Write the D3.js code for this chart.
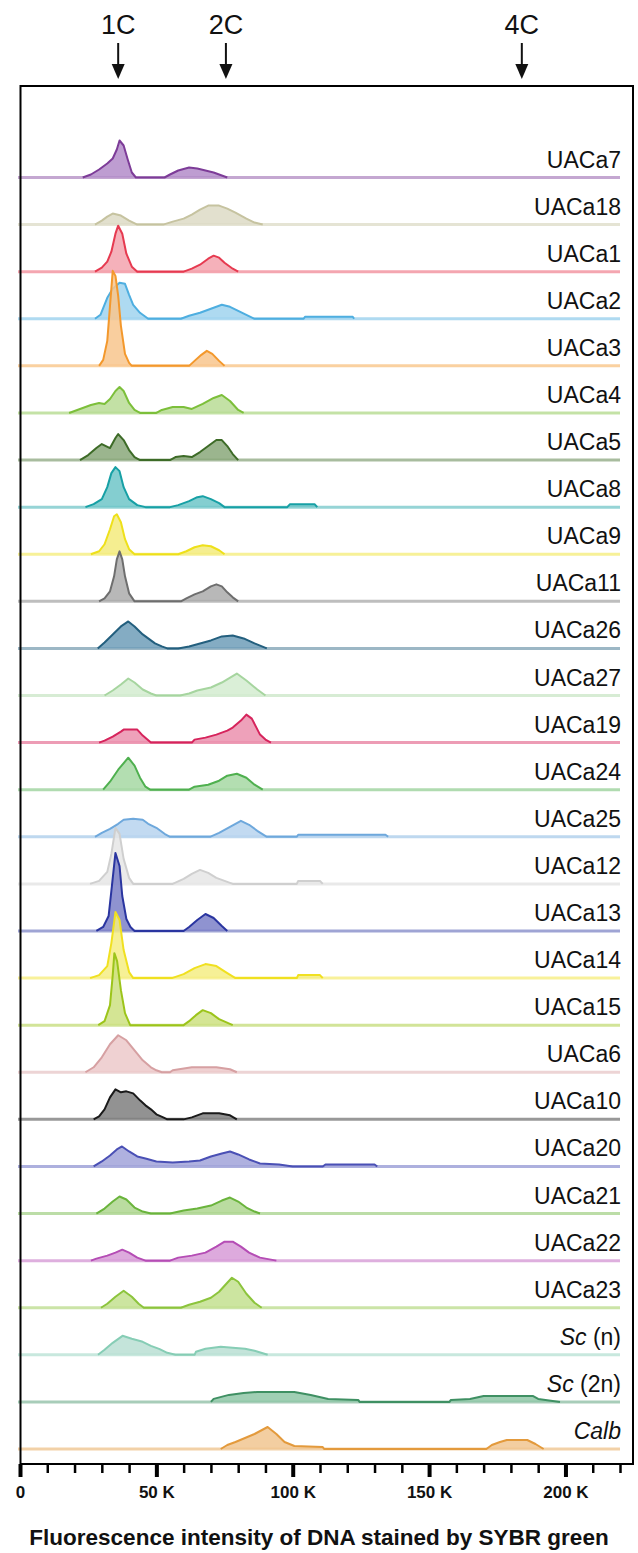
<!DOCTYPE html>
<html>
<head>
<meta charset="utf-8">
<script src="https://cdn.jsdelivr.net/npm/d3@7"></script>
<style>
  html, body { margin: 0; padding: 0; background: #fff; }
  svg { display: block; font-family: "Liberation Sans", Arial, sans-serif; }
</style>
</head>
<body>
<svg id="chart" width="638" height="1553"></svg>
<script>
// ---------- data (x in thousands of fluorescence units, y = relative cell count) ----------
const labels = ["UACa7","UACa18","UACa1","UACa2","UACa3","UACa4","UACa5","UACa8","UACa9","UACa11",
  "UACa26","UACa27","UACa19","UACa24","UACa25","UACa12","UACa13","UACa14","UACa15","UACa6",
  "UACa10","UACa20","UACa21","UACa22","UACa23","Sc|(n)","Sc|(2n)","Calb|"];
const italicLabel = [false,false,false,false,false,false,false,false,false,false,false,false,false,false,
  false,false,false,false,false,false,false,false,false,false,false,true,true,true];

const UACa7  = [[23,0],[26,3],[29,8],[32,14],[34,19],[35.5,28],[36.5,37],[38,32],[39.5,18],[41,5],[42.5,0],[53,0],[55,3],[58,7],[62,10],[65,9],[68,7],[71,5],[74,2],[76,0]];
const UACa18 = [[27.5,0],[30,4],[32,8],[34,11],[37,9],[40,4],[43,0],[52.5,0],[56,3],[60,6],[63,10],[66,15],[69,19],[73,19],[76,16],[79,12],[83,6],[86,2],[89,0]];
const UACa1  = [[27.5,0],[30,4],[32,10],[33.5,20],[35,38],[36,46],[37.5,38],[39,18],[41,5],[43,0],[60,0],[63,3],[66,7],[69,13],[71,16],[73,14],[75,9],[78,3],[80,0]];
const UACa2  = [[27.5,0],[29.5,4],[32,21],[34,30],[36.5,36],[38.5,35],[40,24],[41.5,14],[44,6],[47,0],[59,0],[62,3],[66,6],[70,10],[74,14],[77,12],[80,8],[83,4],[86,0],[104,0],[104.5,2],[122,2],[122.5,0]];
const UACa3  = [[29,0],[30.5,6],[32,25],[33,60],[34,95],[35,90],[36,70],[37,40],[38.5,12],[40,3],[41,0],[62,0],[64,5],[66.5,11],[68.5,15],[70.5,12],[73,5],[75,0]];
const UACa4  = [[18,0],[22,4],[26,8],[29,10],[31,9],[33,14],[35,22],[36.5,26],[38,22],[40,10],[42,3],[44,0],[50,0],[52,3],[56,6],[60,6],[63,4],[67,9],[71,15],[74,18],[77,12],[80,3],[82,0]];
const UACa5  = [[22,0],[25,5],[28,12],[30,16],[31.5,14],[33,12],[35,22],[36,26],[38,20],[40,10],[42,3],[44,0],[55,0],[57,3],[60,4],[63,3],[66,8],[69,14],[72,20],[74,20],[76,14],[78,6],[80,0]];
const UACa8  = [[24,0],[27,3],[30,8],[32,20],[33.5,34],[35,40],[36.5,36],[38,20],[40,8],[43,2],[46,0],[55,0],[58,2],[62,6],[65,10],[67,11],[70,8],[73,4],[75,0],[98,0],[99,3],[108,3],[109,0]];
const UACa9  = [[26,0],[29,3],[31,10],[33,25],[34.5,38],[35.5,40],[37,32],[38.5,15],[40,5],[42,0],[58,0],[61,3],[64,7],[67,9],[70,8],[73,4],[75,0]];
const UACa11 = [[29,0],[31,3],[33,10],[34.5,25],[35.5,42],[36.5,50],[37.5,42],[38.5,25],[40,8],[42,0],[59,0],[61,3],[64,7],[67,10],[70,15],[72,17],[74,15],[76,9],[78,4],[80,0]];
const UACa26 = [[28.5,0],[31,6],[34,14],[37,22],[39.7,27],[42,22],[45,14],[47.5,9],[49.5,5],[52,2],[54,0],[58,0],[62,2],[66,5],[70,8],[74,12],[78,13],[82,10],[86,5],[90.5,0]];
const UACa27 = [[31,0],[34,5],[37,11],[39.7,17],[42,13],[45,6],[48,2],[50,0],[58.7,0],[62,2],[65,5],[70,8],[74,13],[79.5,22],[83,15],[87,6],[90,0]];
const UACa19 = [[29,0],[31,2],[34,6],[37,11],[38,13],[43,13],[45,7],[48,0],[63,0],[64,3],[68,5],[72,8],[76,12],[78,15],[81,22],[83,28],[85,24],[88,8],[90,3],[92,0]];
const UACa24 = [[30.5,0],[33,8],[36,20],[39.7,32],[42,24],[44,12],[46,3],[47.7,0],[62,0],[64,3],[69,5],[73,9],[76,14],[79.5,16],[83,12],[86,5],[89,0]];
const UACa25 = [[27.5,0],[30,4],[33,8],[36,13],[38,17],[41.5,18],[45,17],[47,13],[50,9],[53,3],[55,0],[69.7,0],[73,4],[77,10],[81,16],[84,12],[87,6],[90.5,0],[101.5,0],[102,2],[128,2],[134,2],[135,0]];
const UACa12 = [[25.7,0],[29,3],[32,12],[33.5,30],[35,56],[36.5,50],[38,25],[40,6],[41.5,0],[56,0],[60,5],[63,10],[66,14],[69,11],[72,6],[75,3],[78,0],[101.5,0],[102,3],[110,3],[111,0]];
const UACa13 = [[28,0],[30.5,4],[32.5,15],[33.5,40],[35,78],[36.5,65],[37.5,35],[39,12],[40.5,4],[42,0],[60,0],[62,4],[65,11],[68,17],[71,13],[74,5],[76,0]];
const UACa14 = [[25.7,0],[29,3],[32,12],[33.5,35],[35,66],[36.5,58],[38,28],[40,6],[41.5,0],[55.7,0],[60,4],[64,10],[68,14],[72,12],[76,5],[79,0],[101.5,0],[102,3],[110,3],[111,0]];
const UACa15 = [[28.7,0],[31,4],[33,20],[34,50],[34.6,72],[35.6,64],[37,35],[38.5,12],[40.4,0],[60,0],[62,4],[64.5,10],[67,15],[70,12],[73,6],[78,0]];
const UACa6  = [[24,0],[27,5],[30,15],[33,28],[36,37],[39,32],[42,22],[45,12],[48,5],[50,2],[52,0],[55,0],[56,2],[63,5],[72,5],[77,3],[79.5,0]];
const UACa10 = [[27,0],[29,3],[31,10],[33,22],[35,30],[37,27],[39,28],[41.5,26],[44,19],[46,14],[48,10],[50,5],[52.5,2],[54,0],[60,0],[63,2],[67,6],[73,6],[77,4],[79.5,0]];
const UACa20 = [[27,0],[30,5],[33,11],[35.5,17],[37.4,20],[40,15],[43,10],[46,8],[50,5],[56,4],[62,5],[66,6],[70,10],[74,13],[77,15],[80,12],[84,7],[88,3],[95,2],[100,0],[111,0],[112,2],[130,2],[131,0]];
const UACa21 = [[28,0],[31,5],[34,12],[36.5,17],[39,14],[42,6],[45,2],[48,0],[55,0],[60,3],[65,5],[70,8],[74,13],[77,16],[80,12],[83,6],[86,2],[88,0]];
const UACa22 = [[26,0],[28,2],[32,5],[35,8],[37.5,11],[40,8],[43,3],[46,0],[55,0],[58,3],[63,5],[68,8],[72,14],[75,19],[78,19],[81,14],[84,8],[88,3],[92,1],[94,0]];
const UACa23 = [[29.7,0],[32,4],[35,11],[38,17],[41,11],[43.5,4],[45.4,0],[59,0],[62,3],[66,6],[70,10],[73,16],[76,25],[77.7,30],[80,26],[83,14],[86,5],[88.6,0]];
const ScN    = [[28.6,0],[31,5],[34,12],[37.6,19],[41,16],[45,13],[48,9],[51,6],[54,2],[57,0],[64,0],[64.5,3],[68,6],[73.6,8],[78,7],[82.5,6],[86,4],[90.8,0]];
const Sc2N   = [[70,0],[71,3],[76.6,7],[82,9],[87,10],[95,10],[100.6,10],[106.6,7],[113,3],[124,2],[124.5,0],[157.5,0],[158,2],[165,3],[170,6],[188,6],[190,3],[198,0]];
const Calb   = [[73.6,0],[76,4],[79,7],[82.5,11],[86,15],[90.8,22],[94,15],[97,7],[100.6,3],[111,2],[111.5,0],[171,0],[173,4],[176,7],[178.5,9],[186,9],[189,5],[192,0]];

const profiles = [UACa7,UACa18,UACa1,UACa2,UACa3,UACa4,UACa5,UACa8,UACa9,UACa11,UACa26,UACa27,UACa19,
  UACa24,UACa25,UACa12,UACa13,UACa14,UACa15,UACa6,UACa10,UACa20,UACa21,UACa22,UACa23,ScN,Sc2N,Calb];

const strokeColors = ["#7d3c98","#c6c3a0","#e63a50","#4eaee0","#f3982c","#7cbf3a","#3d6b27","#17a0a5",
  "#eee01a","#6e6e6e","#235f7e","#a6d59f","#d6245c","#4fb04f","#6ea8dc","#cfcfcf","#2a35a0","#f0e020",
  "#9cc41a","#d6a0a2","#1a1a1a","#4a50b5","#6ab43c","#b54db5","#8cc43c","#86cdb5","#3f9063","#e39a3c"];
const fillColors = ["#b38cc9","#dddac6","#f3a3ae","#a0d4ee","#f8c58d","#b9dc95","#8aa87a","#6ec6c8",
  "#f3eb7c","#ababab","#6f9db8","#d4ecd0","#eb90ae","#a6d8a3","#b7d4ef","#e6e6e6","#7b80c8","#f5ed84",
  "#cce081","#ecc9ca","#7f7f7f","#a1a3d9","#aed68f","#d79bd7","#c3e08f","#badfd3","#8fc7a7","#f1c690"];

const markerLabels = ["1C","2C","4C"];
const markerValues = [36000, 75500, 184000];
const tickMajor = [0, 50000, 100000, 150000, 200000];
const tickMinor = d3.range(0, 220001, 10000);
const tickLabels = ["0","50 K","100 K","150 K","200 K"];
const axisTitle = "Fluorescence intensity of DNA stained by SYBR green";

// ---------- layout ----------
const svg = d3.select("#chart");
const frame = {left: 20.5, right: 633, top: 86, bottom: 1464};
const x = d3.scaleLinear().domain([0, 220000]).range([20, 620]);
const rowBand = d3.scalePoint().domain(d3.range(labels.length)).range([177.5, 1449]);
const h = d3.scaleLinear().domain([0, 100]).range([0, 100]);

// markers on top
const mk = svg.append("g");
markerValues.forEach((v, i) => {
  const cx = x(v);
  mk.append("text").attr("x", cx).attr("y", 34).attr("text-anchor", "middle")
    .attr("font-size", 27).attr("fill", "#111").text(markerLabels[i]);
  mk.append("line").attr("x1", cx).attr("x2", cx).attr("y1", 43).attr("y2", 68)
    .attr("stroke", "#111").attr("stroke-width", 2);
  mk.append("path").attr("d", `M${cx-6.5},${64} L${cx+6.5},${64} L${cx},${79} Z`).attr("fill", "#111");
});

// ridgelines
const area = d3.area().x(d => x(d[0] * 1000)).y0(0).y1(d => -h(d[1]));
const line = d3.line().x(d => x(d[0] * 1000)).y(d => -h(d[1]));
const rows = svg.append("g");
profiles.forEach((p, i) => {
  const g = rows.append("g").attr("transform", `translate(0,${rowBand(i)})`);
  g.append("line").attr("x1", x(0) - 2).attr("x2", x(220000)).attr("y1", 0).attr("y2", 0)
    .attr("stroke", strokeColors[i]).attr("stroke-opacity", 0.45).attr("stroke-width", 3);
  g.append("path").attr("d", area(p)).attr("fill", fillColors[i]).attr("fill-opacity", 0.85);
  g.append("path").attr("d", line(p)).attr("fill", "none").attr("stroke", strokeColors[i])
    .attr("stroke-width", 2).attr("stroke-linejoin", "round");
  const parts = labels[i].split("|");
  const t = g.append("text").attr("x", 621).attr("y", -10).attr("text-anchor", "end")
    .attr("font-size", 23).attr("fill", "#111");
  if (italicLabel[i]) {
    t.append("tspan").attr("font-style", "italic").text(parts[0]);
    if (parts[1]) t.append("tspan").text(" " + parts[1]);
  } else {
    t.text(parts[0]);
  }
});

// frame
svg.append("rect").attr("x", frame.left).attr("y", frame.top)
  .attr("width", frame.right - frame.left).attr("height", frame.bottom - frame.top)
  .attr("fill", "none").attr("stroke", "#000").attr("stroke-width", 2);

// axes
const minorAxis = d3.axisBottom(x).tickValues(tickMinor).tickSize(9).tickFormat("");
const gMinor = svg.append("g").attr("transform", `translate(0,${frame.bottom})`).call(minorAxis);
gMinor.select(".domain").remove();
gMinor.selectAll(".tick line").attr("stroke", "#000").attr("stroke-width", 2.5);

const majorAxis = d3.axisBottom(x).tickValues(tickMajor).tickSize(13).tickPadding(9)
  .tickFormat((d, i) => tickLabels[i]);
const gMajor = svg.append("g").attr("transform", `translate(0,${frame.bottom})`).call(majorAxis);
gMajor.select(".domain").remove();
gMajor.selectAll(".tick line").attr("stroke", "#000").attr("stroke-width", 4);
gMajor.selectAll(".tick text").attr("font-size", 17).attr("font-weight", "bold")
  .attr("fill", "#111").attr("font-family", "Liberation Sans, Arial, sans-serif");

svg.append("text").attr("x", 319).attr("y", 1545).attr("text-anchor", "middle")
  .attr("font-size", 22.5).attr("font-weight", "bold").attr("fill", "#111").text(axisTitle);
</script>
</body>
</html>
